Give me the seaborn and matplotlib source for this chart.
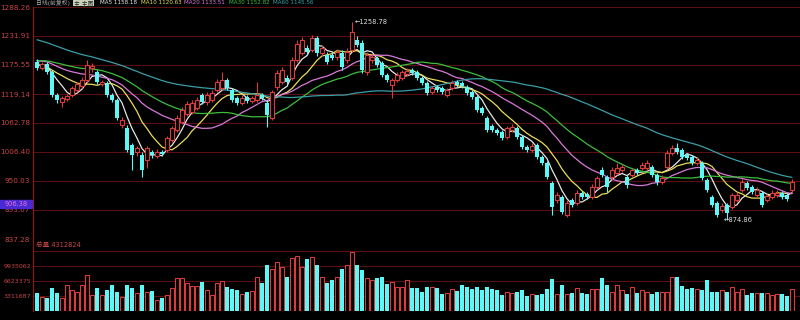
import numpy as np
import pandas as pd
import matplotlib
matplotlib.use('Agg')
import matplotlib.pyplot as plt
from matplotlib.patches import Rectangle
import seaborn as sns

# daily bars (index points)
open_ = [
    1181, 1170, 1178, 1162, 1117, 1104, 1109, 1117, 1127, 1135,
    1146, 1170, 1162, 1139, 1141, 1117, 1108, 1059, 1053, 1020,
    1006, 1001, 991, 1006, 999, 1006, 1010, 1030, 1049, 1065,
    1080, 1084, 1092, 1117, 1104, 1108, 1127, 1131, 1146, 1127,
    1111, 1102, 1113, 1106, 1108, 1117, 1102, 1073, 1133, 1143,
    1150, 1150, 1185, 1199, 1209, 1205, 1228, 1199, 1195, 1195,
    1191, 1199, 1185, 1205, 1224, 1218, 1162, 1185, 1189, 1179,
    1156, 1137, 1146, 1150, 1158, 1166, 1162, 1150, 1141, 1123,
    1133, 1131, 1117, 1131, 1143, 1141, 1133, 1123, 1113, 1092,
    1073, 1057, 1049, 1045, 1036, 1049, 1053, 1036, 1016, 1010,
    1020, 997, 985, 946, 913, 919, 884, 913, 907, 927,
    925, 919, 938, 971, 958, 958, 966, 971, 958, 962,
    971, 975, 975, 977, 962, 948, 977, 1004, 1014, 1010,
    1001, 997, 985, 985, 952, 919, 907, 894, 903, 900,
    913, 933, 946, 938, 923, 927, 913, 919, 923, 927,
    923, 933]
close = [
    1170, 1178, 1162, 1117, 1108, 1111, 1115, 1131, 1139, 1146,
    1176, 1174, 1143, 1143, 1117, 1108, 1073, 1069, 1010, 1001,
    1014, 971, 1014, 1001, 1006, 1003, 1034, 1053, 1073, 1088,
    1100, 1102, 1108, 1104, 1117, 1121, 1143, 1146, 1131, 1108,
    1102, 1111, 1106, 1111, 1117, 1111, 1078, 1123, 1160, 1166,
    1143, 1185, 1216, 1224, 1201, 1228, 1199, 1209, 1181, 1189,
    1201, 1172, 1201, 1240, 1214, 1166, 1195, 1191, 1176, 1156,
    1146, 1146, 1156, 1162, 1164, 1160, 1150, 1141, 1121, 1131,
    1127, 1123, 1127, 1141, 1137, 1135, 1121, 1113, 1088, 1082,
    1049, 1049, 1043, 1034, 1053, 1055, 1036, 1016, 1010, 1018,
    997, 985, 958, 900, 923, 890, 907, 903, 927, 919,
    919, 938, 956, 962, 938, 971, 975, 977, 942, 971,
    966, 981, 985, 962, 948, 956, 1004, 1014, 1006, 997,
    995, 985, 991, 956, 933, 903, 884, 901, 888, 923,
    923, 948, 936, 929, 933, 903, 921, 927, 927, 919,
    915, 948]
high = [
    1187, 1181, 1181, 1166, 1121, 1115, 1119, 1135, 1143, 1152,
    1185, 1179, 1166, 1146, 1144, 1121, 1111, 1075, 1059, 1024,
    1018, 1006, 1018, 1010, 1012, 1010, 1038, 1057, 1078, 1094,
    1106, 1108, 1113, 1121, 1123, 1127, 1148, 1162, 1150, 1131,
    1115, 1117, 1117, 1115, 1143, 1121, 1108, 1127, 1166, 1172,
    1156, 1191, 1224, 1230, 1214, 1234, 1232, 1214, 1201, 1201,
    1207, 1205, 1209, 1258.78, 1232, 1224, 1201, 1197, 1193, 1183,
    1160, 1150, 1162, 1166, 1170, 1170, 1166, 1154, 1144, 1135,
    1137, 1135, 1131, 1146, 1146, 1144, 1137, 1127, 1117, 1096,
    1076, 1061, 1053, 1049, 1057, 1061, 1057, 1040, 1020, 1024,
    1024, 1001, 989, 950, 929, 923, 913, 917, 933, 931,
    929, 944, 960, 977, 962, 977, 985, 983, 962, 975,
    975, 987, 991, 981, 966, 962, 1010, 1020, 1024, 1014,
    1004, 1001, 997, 989, 956, 923, 911, 907, 907, 927,
    929, 954, 950, 942, 938, 931, 925, 933, 933, 931,
    927, 954]
low = [
    1166, 1166, 1158, 1113, 1102, 1094, 1106, 1113, 1123, 1131,
    1143, 1162, 1139, 1135, 1113, 1104, 1069, 1053, 1006, 971,
    999, 958, 975, 995, 995, 999, 1006, 1026, 1045, 1061,
    1076, 1080, 1088, 1100, 1098, 1104, 1123, 1127, 1127, 1104,
    1098, 1098, 1102, 1102, 1104, 1108, 1055, 1069, 1127, 1139,
    1139, 1146, 1181, 1195, 1195, 1201, 1193, 1193, 1178, 1185,
    1185, 1166, 1179, 1201, 1211, 1160, 1156, 1179, 1172, 1152,
    1143, 1111, 1143, 1146, 1154, 1156, 1146, 1137, 1117, 1119,
    1123, 1119, 1113, 1127, 1133, 1131, 1117, 1109, 1084, 1078,
    1045, 1045, 1040, 1030, 1032, 1045, 1032, 1012, 1006, 1006,
    993, 981, 954, 884, 907, 886, 880, 900, 903, 915,
    915, 915, 934, 958, 929, 952, 962, 968, 936, 958,
    962, 971, 971, 958, 942, 944, 973, 1001, 1003, 993,
    991, 981, 981, 952, 929, 900, 880, 890, 874.86, 896,
    909, 929, 933, 925, 919, 900, 909, 915, 919, 915,
    911, 929]
# volume in millions
volume = [
    3.97, 3.09, 2.87, 5.08, 3.97, 2.87, 5.74, 4.64, 4.19, 5.74,
    7.95, 3.53, 5.08, 3.53, 4.64, 5.74, 4.19, 3.09, 5.74, 5.08,
    3.97, 5.74, 4.19, 4.42, 2.43, 2.87, 3.53, 5.08, 7.29, 7.29,
    6.18, 5.52, 5.52,
    6.40, 4.64, 3.53, 6.18, 6.62, 5.30, 4.86, 4.64, 3.75, 4.19,
    4.42, 7.51, 6.18, 10.16, 9.27, 10.82, 9.71, 7.51, 11.70, 12.14,
    9.71, 11.48, 11.92, 10.16, 7.51, 6.18, 6.84, 7.51, 9.27, 10.16,
    13.03, 10.16, 9.05, 7.29, 6.84, 7.29, 7.51, 5.96, 6.40, 5.30,
    5.30, 6.84, 5.08, 5.08, 4.19, 5.30, 5.30, 5.08, 3.75, 3.97,
    4.86, 4.42, 5.74, 5.30, 4.86, 5.30, 4.64, 5.30, 4.86, 4.64,
    3.53, 4.19, 3.97, 4.19, 4.64, 3.31, 3.75, 3.53, 3.75, 4.86,
    7.07, 3.75, 5.74, 3.75, 3.97, 5.08, 3.97, 3.75, 4.86, 4.86,
    7.29, 5.74, 4.19, 5.74, 4.64, 3.75, 5.30, 3.97, 4.64, 4.19,
    3.75, 4.19, 4.19, 4.19, 7.51, 7.51, 5.52, 4.86, 5.08, 4.86,
    4.64, 6.84, 4.19, 4.19, 4.64, 4.19, 5.30, 4.19, 4.86, 3.53,
    3.97, 3.97, 3.97, 3.97, 3.53, 3.75, 3.75, 3.31, 4.86]
# closes before the visible window, only used to warm up the moving averages
pre_close = [
    1341, 1336, 1334, 1328, 1326, 1320, 1322, 1316, 1313, 1312, 1309, 1306, 1311,
    1279, 1266, 1256, 1247, 1241, 1233, 1229, 1221, 1217, 1212, 1209, 1204, 1201,
    1196, 1193, 1189, 1186, 1181, 1178, 1173,
    1174, 1181, 1189, 1195, 1201, 1195, 1189, 1185, 1191, 1197, 1201, 1195, 1189,
    1185, 1181, 1189, 1195, 1193, 1185, 1181,
    1166, 1162, 1170, 1177, 1181, 1174]

price_ticks = [837.28, 893.67, 950.03, 1006.40, 1062.78, 1119.14, 1175.55, 1231.91, 1288.26]
vol_ticks = [3311687, 6623375, 9935062]
ma_windows = [5, 10, 20, 30, 60]
ma_colors = ['#e6e6e6', '#e8dc5a', '#d878d8', '#3cbe3c', '#3a9ea6']
ma_labels = ['MA5 1158.18', 'MA10 1120.63', 'MA20 1133.51', 'MA30 1152.82', 'MA60 1145.56']

RED = '#d83c3c'
CYAN = '#5cf8f8'
GRID = '#5a1010'
LABEL = '#c84444'

df = pd.DataFrame({'open': open_, 'close': close, 'high': high, 'low': low, 'volume': volume})
df['day'] = np.arange(len(df))
allc = pd.Series(pre_close + close, dtype=float)
n_pre = len(pre_close)
for w in ma_windows:
    df[f'ma{w}'] = allc.rolling(w).mean().iloc[n_pre:].to_numpy()
up = df['close'] >= df['open']

sns.set_theme(style='dark', rc={'axes.facecolor': 'black', 'figure.facecolor': 'black'})
plt.rcParams['font.family'] = ['DejaVu Sans', 'Noto Sans CJK SC']

fig = plt.figure(figsize=(8, 3.2), dpi=100)
ax = fig.add_axes([33 / 800, 81 / 320, 767 / 800, 232 / 320])
axv = fig.add_axes([33 / 800, 9 / 320, 767 / 800, 72 / 320], sharex=ax)

# moving averages
for w, col in zip(ma_windows, ma_colors):
    sns.lineplot(data=df, x='day', y=f'ma{w}', color=col, lw=0.9, ax=ax, zorder=2)

# candles: red hollow up, cyan filled down
d = df[up]
ax.vlines(d['day'], d['low'], d['high'], color=RED, lw=0.8, zorder=3)
ax.bar(d['day'], (d['close'] - d['open']).clip(lower=1.5), bottom=d['open'], width=0.66,
       facecolor='black', edgecolor=RED, lw=0.8, zorder=4)
d = df[~up]
ax.vlines(d['day'], d['low'], d['high'], color=CYAN, lw=0.8, zorder=3)
ax.bar(d['day'], (d['open'] - d['close']).clip(lower=1.5), bottom=d['close'], width=0.66,
       color=CYAN, lw=0, zorder=4)

# high / low marks
imax = df['high'].idxmax()
imin = df['low'].idxmin()
ax.text(imax + 0.5, df['high'][imax], f'\u2190{df["high"][imax]:.2f}', color='#e0e0e0',
        fontsize=4.8, va='center', zorder=5)
ax.text(imin - 0.6, df['low'][imin], f'\u2190{df["low"][imin]:.2f}', color='#e0e0e0',
        fontsize=4.8, va='center', zorder=5)

ax.set_xlim(-0.8, 152.6)
ax.set_ylim(837.28, 1288.26)
ax.set_yticks(price_ticks)
ax.set_yticklabels([f'{t:.2f}' for t in price_ticks])
ax.tick_params(axis='y', labelcolor=LABEL, labelsize=5.2, length=0, pad=2)
ax.tick_params(axis='x', bottom=False, labelbottom=False)
ax.grid(axis='y', color=GRID, lw=0.8)
ax.grid(axis='x', visible=False)
ax.set_xlabel('')
ax.set_ylabel('')

# volume
d = df[up]
axv.bar(d['day'], d['volume'], width=0.66, facecolor='black', edgecolor=RED, lw=0.8, zorder=3)
d = df[~up]
axv.bar(d['day'], d['volume'], width=0.66, color=CYAN, lw=0, zorder=3)
axv.set_ylim(0, 15.9)
axv.set_yticks([v / 1e6 for v in vol_ticks] + [13.25])
axv.set_yticklabels([str(v) for v in vol_ticks] + [''])
axv.tick_params(axis='y', labelcolor=LABEL, labelsize=4.5, length=0, pad=1.5)
axv.tick_params(axis='x', bottom=False, labelbottom=False)
axv.grid(axis='y', color=GRID, lw=0.8)
axv.grid(axis='x', visible=False)

for a in (ax, axv):
    for s in ('top', 'right', 'bottom'):
        a.spines[s].set_visible(False)
    a.spines['left'].set_color('#8c1818')
    a.spines['left'].set_linewidth(0.9)

# header
fig.text(36 / 800, 1 - 3 / 320, '日线(前复权)', color='#a8a8a8', fontsize=4.2, va='center')
fig.text(74 / 800, 1 - 3 / 320, '主 主图', color='#202020', fontsize=4.2, va='center',
         bbox=dict(boxstyle='square,pad=0.1', fc='#c8d0b8', ec='none'))
for xp, txt, col in zip([100, 141, 184, 229, 273], ma_labels, ma_colors):
    fig.text(xp / 800, 1 - 3 / 320, txt, color=col, fontsize=4.1, va='center')

fig.text(36 / 800, 1 - 245 / 320, '总量 4312824', color=LABEL, fontsize=4.8, va='center')

# current price marker on the axis
fig.add_artist(Rectangle((0, 1 - 208 / 320), 32 / 800, 8 / 320, transform=fig.transFigure,
                         color='#4a2ad0', zorder=5))
fig.text(16 / 800, 1 - 204 / 320, '906.38', color='#e070e0', fontsize=4.8, ha='center',
         va='center', zorder=6)

fig.savefig('out.png', dpi=100, facecolor='black')
